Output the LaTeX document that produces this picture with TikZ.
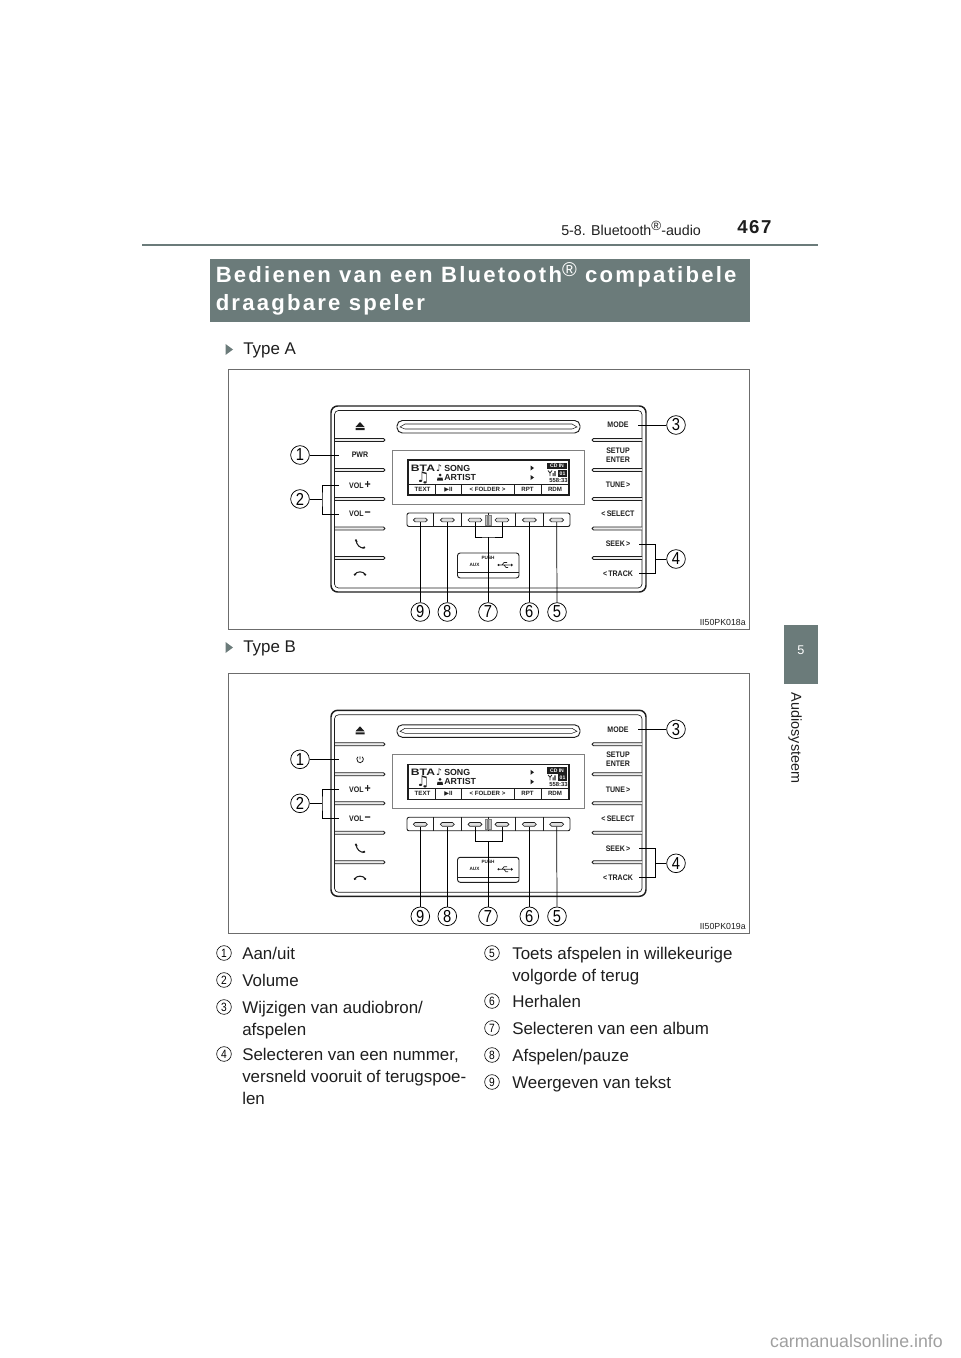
\documentclass[tikz,border=0pt]{standalone}
\usepackage{fontspec}
\setmainfont{Liberation Sans}
\newfontfamily\kopfont[LetterSpace=10]{Liberation Sans}
\newfontfamily\paginafont[LetterSpace=8]{Liberation Sans}
\newfontfamily\cijfer[FakeStretch=0.85]{Liberation Sans}
\newfontfamily\symbool{DejaVu Sans}
\usetikzlibrary{calc}
\definecolor{grijsgroen}{HTML}{6B7B7A}
\definecolor{inkt}{HTML}{1E1E1E}
\tikzset{
    paneel/.style = {font = \fontsize{6}{6.4}\selectfont\bfseries, text = inkt, align = center, inner sep = 0pt, xscale = 0.88},
    scherm/.style = {font = \fontsize{4.6}{5}\selectfont\bfseries, text = inkt, inner sep = 0pt},
    knopje/.style = {draw = inkt, line width = 0.5pt, fill = gray!25, rounded corners = 1.4pt, minimum width = 10.5pt, minimum height = 2.8pt, inner sep = 0pt},
    nummer/.style = {circle, draw = black, line width = 0.55pt, fill = white, minimum size = 14pt, inner sep = 0pt, font = \fontsize{13}{13}\selectfont\cijfer},
    lijst/.style = {circle, draw = black, line width = 0.45pt, minimum size = 11pt, inner sep = 0pt, font = \fontsize{9}{9}\selectfont\cijfer},
    tekst/.style = {anchor = north west, align = left, inner sep = 0pt, font = \fontsize{12.7}{16.3}\selectfont, text = inkt, execute at begin node = \strut},
    leiding/.style = {draw = black, line width = 0.55pt},
    rand/.style = {draw = inkt, line width = 0.65pt, fill = gray!15, rounded corners = 1.1pt}
}
% #1 verschuiving, #2 prefix, #3 tweede knop links, #4 code
\newcommand{\autoradio}[4]{
\begin{scope}[shift = {(0,#1)}, name prefix = #2-]
    % Kader
    \draw[draw = gray!85!black, line width = 0.6pt] (228,369) rectangle (749,629);
    \draw[inkt, line width = 1.1pt, rounded corners = 5pt] (331,406) rectangle (646,592);
    \draw[inkt, line width = 0.5pt, rounded corners = 3pt] (334.5,410.5) rectangle (642,588);
    % Scheidingen
    \foreach \yy in {440,470,499,528.5,558}{
        \draw[rand] (335,\yy-1.5) -- (385,\yy-1.5) -- (385,\yy+1.5) -- (335,\yy+1.5);
        \draw[rand] (642,\yy-1.5) -- (592,\yy-1.5) -- (592,\yy+1.5) -- (642,\yy+1.5);
    }
    % CD
    \draw[inkt, line width = 0.7pt, rounded corners = 4pt] (397,420.5) rectangle (580,433);
    \draw[inkt, line width = 0.4pt] (400,427) -- (405,424) -- (572,424) -- (577,427) -- (572,429) -- (405,429) -- cycle;
    % Display
    \draw[gray, line width = 0.5pt] (392,450) rectangle (584,504);
    \draw[inkt, line width = 0.9pt] (408,460) rectangle (569,495);
    \draw[inkt, line width = 0.4pt] (408,484) -- (569,484);
    \foreach \xx in {435.7,461,514,541}{
        \draw[inkt, line width = 0.6pt] (\xx,484) -- (\xx,495);
    }
    \node[scherm, font = \fontsize{7}{7}\selectfont\bfseries, xscale = 1.3] (bta) at (423,468) {BTA};
    \node[scherm, font = \fontsize{6.6}{7}\selectfont\bfseries, anchor = west] (song) at (444,468) {SONG};
    \node[scherm, font = \fontsize{6.6}{7}\selectfont\bfseries, anchor = west] (artist) at (444,477.5) {ARTIST};
    \node[scherm, font = \fontsize{7}{7}\selectfont\symbool] (noot) at (439,468) {♪};
    \node[scherm, font = \fontsize{11}{11}\selectfont\symbool] (noten) at (423,478) {♫};
    \fill[inkt] (440,475) circle (1.5) (437,480.5) -- (437.5,477.5) -- (442.5,477.5) -- (443,480.5) -- cycle;
    \node[scherm] (soft1) at (422.5,489.5) {TEXT};
    \node[scherm] (soft2) at (448.5,489.5) {{\symbool ▶}II};
    \node[scherm] (soft3) at (487.5,489.5) {< FOLDER >};
    \node[scherm] (soft4) at (527.5,489.5) {RPT};
    \node[scherm] (soft5) at (555,489.5) {RDM};
    \fill[inkt] (530.5,465.5) -- (534,468) -- (530.5,470.5) -- cycle;
    \fill[inkt] (530.5,475) -- (534,477.5) -- (530.5,480) -- cycle;
    \node[scherm, fill = inkt, text = white, font = \fontsize{3.8}{4}\selectfont\bfseries, minimum width = 15.5pt, minimum height = 5pt] (cdin) at (557,466) {CD IN};
    \node[scherm, fill = inkt, text = white, font = \fontsize{3.8}{4}\selectfont\bfseries, minimum width = 7pt, minimum height = 5pt] (spoor) at (562.5,473.5) {01};
    \node[scherm, font = \fontsize{4.4}{5}\selectfont\bfseries] (tijd) at (558.5,480.5) {558:33};
    \draw[inkt, line width = 0.6pt] (548,470.5) -- (550,473) -- (552,470.5) (550,473) -- (550,476);
    \fill[inkt] (552.5,476) rectangle (553.7,473) (554.4,476) rectangle (555.6,471);
    % Knoppen
    \draw[inkt, line width = 0.65pt, rounded corners = 1.5pt] (407,513) rectangle (570,526.5);
    \foreach \xx in {433.7,461,488,515.7,543}{
        \draw[inkt, line width = 0.5pt] (\xx,513) -- (\xx,526.5);
    }
    \draw[gray, fill = gray!50, line width = 0.4pt] (485,515) rectangle (487.5,525) (488.5,515) rectangle (491,525);
    \node[knopje] (knop9) at (420.3,520) {};
    \node[knopje] (knop8) at (447.3,520) {};
    \node[knopje] (knop7a) at (475,520) {};
    \node[knopje] (knop7b) at (502,520) {};
    \node[knopje] (knop6) at (529.3,520) {};
    \node[knopje] (knop5) at (556.7,520) {};
    % AUX
    \draw[inkt, line width = 0.7pt, rounded corners = 2pt] (457.5,553) rectangle (519,578);
    \draw[inkt, line width = 0.4pt] (457.5,572.5) -- (519,572.5);
    \node[scherm, font = \fontsize{3.5}{4}\selectfont\bfseries] (push) at (488,557.5) {PUSH};
    \node[scherm, font = \fontsize{3.5}{4}\selectfont\bfseries] (aux) at (474.5,565) {AUX};
    \draw[inkt, line width = 0.5pt] (498.5,565) -- (511,565) (502,565) -- (504,562.5) -- (507,562.5) (504,565) -- (506,567.5) -- (508,567.5);
    \fill[inkt] (498.5,565) circle (1.1) (511,563.5) -- (513,565) -- (511,566.5) -- cycle;
    % Links
    \fill[inkt] (360,422) -- (364.5,427) -- (355.5,427) -- cycle (355.5,428) rectangle (364.5,430);
    #3
    \node[paneel] (volp) at (360,485) {VOL\,\fontsize{9}{9}\selectfont +};
    \node[paneel] (volm) at (360,514) {VOL\,\fontsize{9}{9}\selectfont −};
    \draw[inkt, line width = 0.8pt] (356,540) .. controls (356.5,545) and (360,548.5) .. (364.5,548);
    \draw[inkt, line width = 1.2pt] (355.5,539.5) -- (356.8,542) (362.5,548) -- (365,547.2);
    \draw[inkt, line width = 0.8pt] (354.5,574.5) .. controls (357,571) and (363,571) .. (365.5,574.5);
    \draw[inkt, line width = 1.2pt] (354,575) -- (356,574.2) (366,575) -- (364,574.2);
    % Rechts
    \node[paneel] (mode) at (618,425) {MODE};
    \node[paneel] (setup) at (618,455) {SETUP\\ENTER};
    \node[paneel] (tune) at (618,485) {TUNE\,>};
    \node[paneel] (select) at (618,514) {<\,SELECT};
    \node[paneel] (seek) at (618,544) {SEEK\,>};
    \node[paneel] (track) at (618,573.5) {<\,TRACK};
    % Nummers
    \node[nummer] (n1) at (300,455) {1};
    \node[nummer] (n2) at (300,499) {2};
    \node[nummer] (n3) at (676,425) {3};
    \node[nummer] (n4) at (676,559) {4};
    \node[nummer] (n5) at (557,612) {5};
    \node[nummer] (n6) at (529.3,612) {6};
    \node[nummer] (n7) at (488,612) {7};
    \node[nummer] (n8) at (447.3,612) {8};
    \node[nummer] (n9) at (420.3,612) {9};
    % Lijnen
    \coordinate (p1) at (339,455);
    \coordinate (p2a) at (339,485);
    \coordinate (p2b) at (339,514);
    \coordinate (p2m) at (322,499);
    \coordinate (p3) at (638,425);
    \coordinate (p4a) at (639,544);
    \coordinate (p4b) at (639,573.5);
    \coordinate (p4m) at (655,559);
    \coordinate (p7) at (488,537);
    \draw[leiding] (n1) -- (p1);
    \draw[leiding] (n2) -- (p2m);
    \draw[leiding] (p2a) -| (p2m) |- (p2b);
    \draw[leiding] (n3) -- (p3);
    \draw[leiding] (n4) -- (p4m);
    \draw[leiding] (p4a) -| (p4m) |- (p4b);
    \draw[leiding] (n5) -- (knop5);
    \draw[leiding] (n6) -- (knop6);
    \draw[leiding] (n7) -- (p7);
    \draw[leiding] (knop7a) |- (p7) -| (knop7b);
    \draw[leiding] (n8) -- (knop8);
    \draw[leiding] (n9) -- (knop9);
    \node[anchor = east, inner sep = 0pt, font = \fontsize{6.6}{7}\selectfont, text = inkt] (code) at (746,622) {#4};
\end{scope}
}

\begin{document}
\begin{tikzpicture}[x = 0.75pt, y = -0.75pt]
    \useasboundingbox (0,0) rectangle (960,1358);
    % Kop
    \node[anchor = base west, inner sep = 0pt, font = \fontsize{10.7}{11}\selectfont, text = inkt] (sectie) at (561,236) {5-8. Bluetooth\raisebox{3.8pt}{\fontsize{10}{10}\selectfont ®}-audio};
    \node[anchor = base west, inner sep = 0pt, font = \fontsize{14}{14}\selectfont\paginafont\bfseries, text = inkt] (pagina) at (737,234) {467};
    \fill[grijsgroen] (142,244) rectangle (818,246.5);
    % Balk
    \fill[grijsgroen] (210,259) rectangle (750,322);
    \node[anchor = base west, inner sep = 0pt, font = \fontsize{16.6}{20}\selectfont\kopfont\bfseries, text = white] (kop1) at (215.5,283) {Bedienen van een Bluetooth\raisebox{4.5pt}{\fontsize{15}{15}\selectfont\mdseries ®} compatibele};
    \node[anchor = base west, inner sep = 0pt, font = \fontsize{16.6}{20}\selectfont\kopfont\bfseries, text = white] (kop2) at (215.5,311) {draagbare speler};
    % Tab
    \fill[grijsgroen] (784,625) rectangle (818,684);
    \node[inner sep = 0pt, font = \fontsize{9.5}{10}\selectfont, text = white] (tab) at (801,650) {5};
    \node[rotate = -90, inner sep = 0pt, font = \fontsize{10.8}{11}\selectfont, text = inkt] (hoofdstuk) at (795,738) {Audiosysteem};
    % Type
    \fill[grijsgroen] (225.5,344) -- (233,349.5) -- (225.5,355) -- cycle;
    \node[tekst, anchor = base west] (typea) at (243,354) {Type A};
    \fill[grijsgroen] (225.5,642) -- (233,647.5) -- (225.5,653) -- cycle;
    \node[tekst, anchor = base west] (typeb) at (243,652) {Type B};
    % Radio's
    \autoradio{0}{a}{\node[paneel] (pwr) at (360,455) {PWR};}{II50PK018a}
    \autoradio{304.3}{b}{\draw[inkt, line width = 0.6pt] (360,452) -- (360,455) (360,455) ++(2.2,-2.5) arc[start angle = -50, end angle = 230, radius = 3.3];}{II50PK019a}
    % Legenda
    \node[lijst] (l1) at (224,953) {1};
    \node[tekst] (t1) at (242,944) {Aan/uit};
    \node[lijst] (l2) at (224,980) {2};
    \node[tekst] (t2) at (242,971) {Volume};
    \node[lijst] (l3) at (224,1007) {3};
    \node[tekst] (t3) at (242,1001) {Wijzigen van audiobron/\\afspelen};
    \node[lijst] (l4) at (224,1054) {4};
    \node[tekst] (t4) at (242,1048) {Selecteren van een nummer,\\versneld vooruit of terugspoe-\\len};
    \node[lijst] (l5) at (492,953) {5};
    \node[tekst] (t5) at (512,947) {Toets afspelen in willekeurige\\volgorde of terug};
    \node[lijst] (l6) at (492,1001) {6};
    \node[tekst] (t6) at (512,992) {Herhalen};
    \node[lijst] (l7) at (492,1028) {7};
    \node[tekst] (t7) at (512,1019) {Selecteren van een album};
    \node[lijst] (l8) at (492,1055) {8};
    \node[tekst] (t8) at (512,1046) {Afspelen/pauze};
    \node[lijst] (l9) at (492,1082) {9};
    \node[tekst] (t9) at (512,1073) {Weergeven van tekst};
    % Watermerk
    \node[anchor = base east, inner sep = 0pt, font = \fontsize{13.3}{14}\selectfont, text = gray!75] (bron) at (943,1347) {carmanualsonline.info};
\end{tikzpicture}
\end{document}
